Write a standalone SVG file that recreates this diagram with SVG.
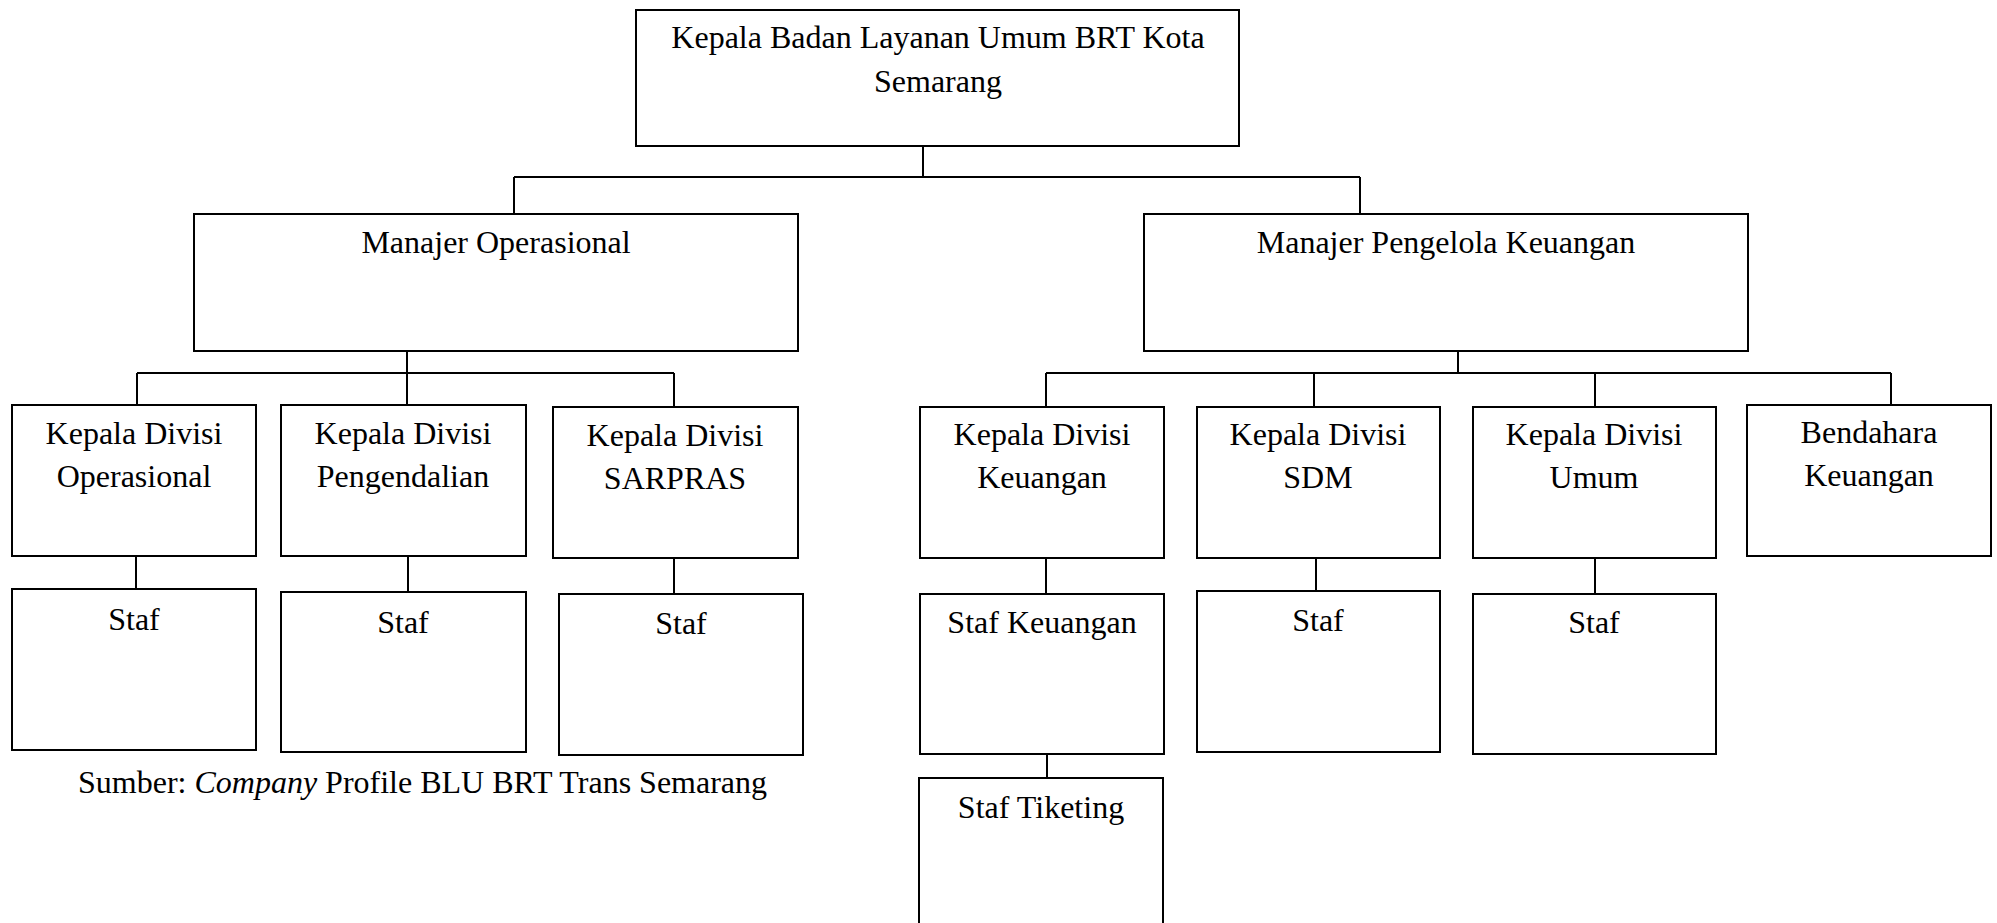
<svg xmlns="http://www.w3.org/2000/svg" width="1997" height="923" viewBox="0 0 1997 923">
<style>
.box{fill:#fff;stroke:#000;stroke-width:2}
.ln{stroke:#000;stroke-width:2;fill:none}
text{font-family:"Liberation Serif","Times New Roman",serif;font-size:32px;fill:#000;text-anchor:middle}
</style>
<rect width="1997" height="923" fill="#fff"/>
<g id="connectors" class="ln">
<path d="M923,146V177M514,177H1360M514,177V214M1360,177V214"/>
<path d="M407,351V373M137,373H674M137,373V405M407,373V405M674,373V407"/>
<path d="M1458,351V373M1046,373H1891M1046,373V407M1314,373V407M1595,373V407M1891,373V405"/>
<path d="M136,556V589M408,556V592M674,558V594M1046,558V594M1316,558V591M1595,558V594M1047,754V778"/>
</g>
<g id="kepala-blu"><rect class="box" x="636" y="10" width="603" height="136"/><text x="938" y="48">Kepala Badan Layanan Umum BRT Kota</text><text x="938" y="92">Semarang</text></g>
<g id="manajer-operasional"><rect class="box" x="194" y="214" width="604" height="137"/><text x="496" y="253">Manajer Operasional</text></g>
<g id="manajer-keuangan"><rect class="box" x="1144" y="214" width="604" height="137"/><text x="1446" y="253">Manajer Pengelola Keuangan</text></g>
<g id="kd-operasional"><rect class="box" x="12" y="405" width="244" height="151"/><text x="134" y="444">Kepala Divisi</text><text x="134" y="487">Operasional</text></g>
<g id="kd-pengendalian"><rect class="box" x="281" y="405" width="245" height="151"/><text x="403" y="444">Kepala Divisi</text><text x="403" y="487">Pengendalian</text></g>
<g id="kd-sarpras"><rect class="box" x="553" y="407" width="245" height="151"/><text x="675" y="446">Kepala Divisi</text><text x="675" y="489">SARPRAS</text></g>
<g id="kd-keuangan"><rect class="box" x="920" y="407" width="244" height="151"/><text x="1042" y="445">Kepala Divisi</text><text x="1042" y="488">Keuangan</text></g>
<g id="kd-sdm"><rect class="box" x="1197" y="407" width="243" height="151"/><text x="1318" y="445">Kepala Divisi</text><text x="1318" y="488">SDM</text></g>
<g id="kd-umum"><rect class="box" x="1473" y="407" width="243" height="151"/><text x="1594" y="445">Kepala Divisi</text><text x="1594" y="488">Umum</text></g>
<g id="bendahara"><rect class="box" x="1747" y="405" width="244" height="151"/><text x="1869" y="443">Bendahara</text><text x="1869" y="486">Keuangan</text></g>
<g id="staf-operasional"><rect class="box" x="12" y="589" width="244" height="161"/><text x="134" y="630">Staf</text></g>
<g id="staf-pengendalian"><rect class="box" x="281" y="592" width="245" height="160"/><text x="403" y="633">Staf</text></g>
<g id="staf-sarpras"><rect class="box" x="559" y="594" width="244" height="161"/><text x="681" y="634">Staf</text></g>
<g id="staf-keuangan"><rect class="box" x="920" y="594" width="244" height="160"/><text x="1042" y="633">Staf Keuangan</text></g>
<g id="staf-sdm"><rect class="box" x="1197" y="591" width="243" height="161"/><text x="1318" y="631">Staf</text></g>
<g id="staf-umum"><rect class="box" x="1473" y="594" width="243" height="160"/><text x="1594" y="633">Staf</text></g>
<g id="staf-tiketing"><rect class="box" x="919" y="778" width="244" height="160"/><text x="1041" y="818">Staf Tiketing</text></g>
<text x="78" y="793" style="text-anchor:start">Sumber: <tspan font-style="italic">Company</tspan> Profile BLU BRT Trans Semarang</text>
</svg>
